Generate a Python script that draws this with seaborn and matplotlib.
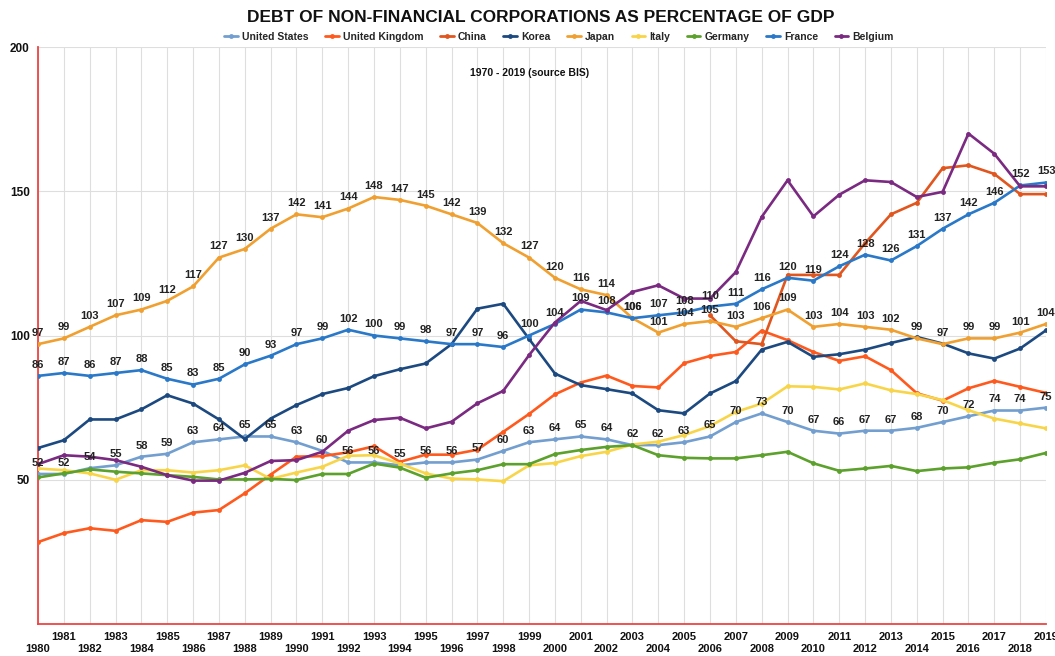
import numpy as np
import pandas as pd
import matplotlib
matplotlib.use("Agg")
import matplotlib.pyplot as plt
from matplotlib.lines import Line2D
import seaborn as sns

years = list(range(1980, 2020))

united_states = [52, 52, 54, 55, 58, 59, 63, 64, 65, 65,
                 63, 60, 56, 56, 55, 56, 56, 57, 60, 63,
                 64, 65, 64, 62, 62, 63, 65, 70, 73, 70,
                 67, 66, 67, 67, 68, 70, 72, 74, 74, 75]
united_kingdom = [28.4, 31.5, 33.2, 32.3, 36.0, 35.4, 38.6, 39.5, 45.3, 51.8,
                  58.0, 58.2, 59.5, 61.6, 56.2, 58.7, 58.7, 60.4, 66.6, 72.8,
                  79.6, 83.7, 86.1, 82.5, 82.0, 90.4, 92.9, 94.3, 101.7, 98.4,
                  94.3, 91.2, 92.8, 88.0, 80.0, 77.4, 81.7, 84.3, 82.2, 80.1]
china = [np.nan] * 26 + [107, 98, 97, 121, 121, 121, 132, 142, 146, 158, 159, 156, 149, 149]
korea = [61.0, 63.7, 70.9, 70.9, 74.4, 79.3, 76.4, 70.9, 64.1, 71.2,
         75.9, 79.7, 81.8, 85.9, 88.3, 90.3, 97.0, 109.3, 111.0, 98.8,
         86.8, 82.8, 81.4, 79.9, 74.1, 73.0, 79.9, 84.2, 95.1, 97.8,
         92.6, 93.5, 95.1, 97.4, 99.5, 97.2, 93.8, 92.0, 95.5, 101.8]
japan = [97, 99, 103, 107, 109, 112, 117, 127, 130, 137,
         142, 141, 144, 148, 147, 145, 142, 139, 132, 127,
         120, 116, 114, 106, 101, 104, 105, 103, 106, 109,
         103, 104, 103, 102, 99, 97, 99, 99, 101, 104]
italy = [53.9, 53.3, 52.2, 50.0, 53.3, 53.3, 52.5, 53.3, 55.0, 50.3,
         52.5, 54.5, 58.3, 58.5, 55.6, 52.2, 50.4, 50.1, 49.5, 55.0,
         55.8, 58.2, 59.7, 62.2, 63.2, 65.5, 68.6, 73.5, 76.4, 82.4,
         82.2, 81.3, 83.4, 81.0, 79.7, 77.6, 74.1, 71.2, 69.5, 67.8]
germany = [50.8, 52.2, 53.6, 52.8, 52.2, 51.6, 51.0, 50.1, 50.1, 50.3,
           49.9, 52.0, 52.0, 55.6, 54.2, 50.7, 52.2, 53.3, 55.4, 55.4,
           58.9, 60.3, 61.4, 62.0, 58.5, 57.6, 57.4, 57.4, 58.5, 59.7,
           55.7, 53.1, 53.9, 54.8, 53.0, 53.9, 54.3, 55.9, 57.1, 59.3]
france = [86, 87, 86, 87, 88, 85, 83, 85, 90, 93,
          97, 99, 102, 100, 99, 98, 97, 97, 96, 100,
          104, 109, 108, 106, 107, 108, 110, 111, 116, 120,
          119, 124, 128, 126, 131, 137, 142, 146, 152, 153]
belgium = [55.4, 58.5, 58.0, 56.8, 54.5, 51.6, 49.7, 49.7, 52.4, 56.5,
           56.8, 59.7, 67.0, 70.7, 71.5, 67.8, 70.1, 76.5, 80.8, 93.2,
           104.5, 112.0, 108.8, 115.1, 117.4, 112.8, 112.8, 122.0, 141.1, 153.8,
           141.3, 148.8, 153.8, 153.2, 148.0, 149.8, 170.0, 163.0, 151.7, 151.7]

countries = ["United States", "United Kingdom", "China", "Korea", "Japan",
             "Italy", "Germany", "France", "Belgium"]
series = [united_states, united_kingdom, china, korea, japan,
          italy, germany, france, belgium]
colors = ["#729fcf", "#ff5a1e", "#e0561e", "#1c4a80", "#f0a030",
          "#f8d548", "#5ba12b", "#2a78c8", "#7a2a80"]
labelled = ["United States", "Japan", "France"]

title = "DEBT OF NON-FINANCIAL CORPORATIONS AS PERCENTAGE OF GDP"
subtitle = "1970 - 2019 (source BIS)"
y_ticks = [50, 100, 150, 200]

df = pd.DataFrame({
    "year": years * len(countries),
    "value": [v for s in series for v in s],
    "country": [c for c in countries for _ in years],
})

sns.set_theme(style="white")
plt.rcParams["font.family"] = ["Liberation Sans", "DejaVu Sans"]
plt.rcParams["font.weight"] = "bold"

fig = plt.figure(figsize=(10.55, 6.56), dpi=100)
ax = fig.add_axes([38 / 1055, 1 - 624 / 656, (1046 - 38) / 1055, (624 - 47) / 656])

palette = dict(zip(countries, colors))
sns.lineplot(data=df.dropna(), x="year", y="value", hue="country",
             hue_order=countries, palette=palette, marker="o", markersize=3.5,
             markeredgewidth=0, linewidth=1.9, legend=False, ax=ax, zorder=3)

for c, s in zip(countries, series):
    if c in labelled:
        for x, v in zip(years, s):
            ax.annotate(f"{v:.0f}", (x, v), xytext=(0, 8), textcoords="offset points",
                        ha="center", va="center", fontsize=8, fontweight="bold",
                        color="#222222", zorder=5, annotation_clip=False)

ax.set_xlim(1980, 2019)
ax.set_ylim(0, 200)
ax.set_xticks(years)
ax.set_xticklabels([str(y) if y % 2 else "\n" + str(y) for y in years],
                   fontsize=8, fontweight="bold", linespacing=1.25)
ax.set_yticks(y_ticks)
ax.set_yticklabels([str(t) for t in y_ticks], fontsize=8.5, fontweight="bold")
ax.tick_params(axis="x", length=0, pad=6, colors="#111111")
ax.tick_params(axis="y", length=4, width=0.8, color="#999999", pad=2, colors="#111111")
ax.set_xlabel("")
ax.set_ylabel("")
ax.grid(True, color="#dedede", linewidth=0.8, zorder=0)
for side in ["top", "right"]:
    ax.spines[side].set_visible(False)
for side in ["left", "bottom"]:
    ax.spines[side].set_color("#ee4444")
    ax.spines[side].set_linewidth(1.3)

ax.text(1999, 191, subtitle, ha="center", va="center", fontsize=7.5,
        fontweight="bold", color="#111111")

fig.text(541 / 1055, 1 - 18 / 656, title, ha="center", va="center",
         fontsize=12.5, fontweight="bold", color="#111111")

handles = [Line2D([0], [0], color=col, lw=2, marker="o", markersize=3.5,
                  markeredgewidth=0) for col in colors]
fig.legend(handles, countries, loc="center", bbox_to_anchor=(559 / 1055, 1 - 37 / 656),
           ncol=9, frameon=False, handlelength=1.3, handletextpad=0.4,
           columnspacing=1.6, borderaxespad=0, prop={"weight": "bold", "size": 7.5})

fig.savefig("out.png", dpi=100)
